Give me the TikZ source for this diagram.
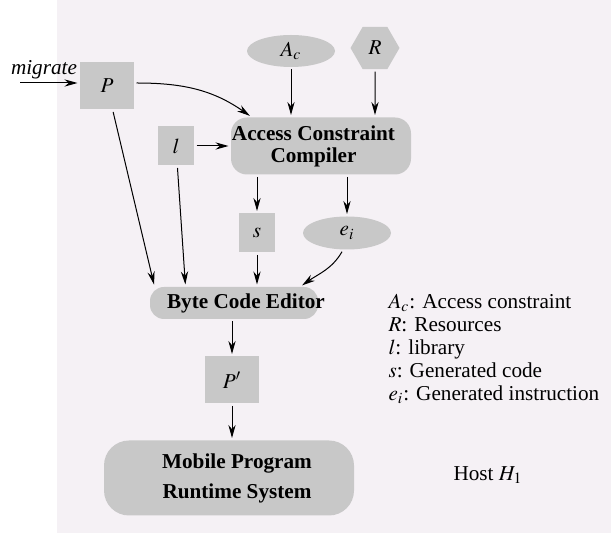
\documentclass[tikz,border=0pt]{standalone}
\usepackage{mathptmx}
\usepackage{fontspec}
\setmainfont{Liberation Serif}
\usetikzlibrary{arrows.meta,shapes.geometric,positioning}
\definecolor{hostbg}{RGB}{245,241,245}
\definecolor{boxgray}{RGB}{200,200,200}

\begin{document}
\begin{tikzpicture}[x=0.5pt,y=-0.5pt,->,>={Stealth[length=6.5pt,width=3.6pt]},line width=0.5pt,
	shorten >=1pt,shorten <=1pt,font=\fontsize{10.6}{11.5}\selectfont,
	squarednode/.style={rectangle,fill=boxgray,inner sep=0pt},
	ovalnode/.style={ellipse,fill=boxgray,inner sep=0pt,minimum width=44pt,minimum height=16pt},
	hexnode/.style={regular polygon,regular polygon sides=6,fill=boxgray,inner sep=0pt,minimum size=24.5pt},
	procnode/.style={rectangle,rounded corners=8pt,fill=boxgray,inner sep=0pt,align=center,font=\fontsize{10.6}{11}\selectfont\bfseries}]
	
	\useasboundingbox (0,0) rectangle (611,533);
	\fill [hostbg] (57,0) rectangle (611,533);
	
	\node (mig) at (44,70) {\textit{migrate}};
	\coordinate (migin) at (18,83);
	\node [squarednode,minimum width=27pt,minimum height=23.5pt] (P) at (107,86) {$P$};
	\node [ovalnode] (Ac) at (291,51) {$A_c$};
	\node [hexnode] (R) at (375,48) {$R$};
	\node [procnode,minimum width=90pt,minimum height=28.5pt] (acc) at (321,146) {\hspace*{-3.75pt}Access Constraint\hspace*{3.75pt}\\\hspace*{-3.75pt}Compiler\hspace*{3.75pt}};
	\node [squarednode,minimum width=18pt,minimum height=19.5pt] (l) at (176,146) {$l$};
	\node [squarednode,minimum width=18pt,minimum height=19.5pt] (s) at (257,233) {$s$};
	\node [ovalnode,minimum height=16.5pt] (ei) at (347,233) {$e_i$};
	\node [procnode,rounded corners=7pt,minimum width=84pt,minimum height=16pt] (bce) at (234,303) {\hspace*{6pt}Byte Code Editor\hspace*{-6pt}};
	\node [squarednode,minimum width=27pt,minimum height=23.5pt] (Pp) at (232,380) {$P'$};
	\node [procnode,rounded corners=12.5pt,minimum width=125pt,minimum height=37.5pt] (rts) at (229,478) {\hspace*{4pt}Mobile Program\hspace*{-4pt}\\[4pt]\hspace*{4pt}Runtime System\hspace*{-4pt}};
	
	\node [anchor=west,align=left,inner sep=0pt] (legend) at (388,349) {$A_c$: Access constraint\\$R$: Resources\\$l$: library\\$s$: Generated code\\$e_i$: Generated instruction};
	\node (host) at (488,475) {Host $H_1$};
	
	\draw (migin) to (migin -| P.west);
	\draw ([yshift=1.5pt]P.east) to[out=0,in=145] ([xshift=10.5pt]acc.north west);
	\draw (Ac) to (Ac |- acc.north);
	\draw (R) to (R |- acc.north);
	\draw (l) to (l -| acc.west);
	\draw (s |- acc.south) to (s);
	\draw (ei |- acc.south) to (ei);
	\draw (P) to ([xshift=2.5pt]bce.north west);
	\draw (l) to ([xshift=18pt]bce.north west);
	\draw (s) to (s |- bce.north);
	\draw ([xshift=-2pt]ei.south) to[out=240,in=35] ([xshift=-9pt]bce.north east);
	\draw (Pp |- bce.south) to (Pp);
	\draw (Pp) to (Pp |- rts.north);
\end{tikzpicture}
\end{document}
